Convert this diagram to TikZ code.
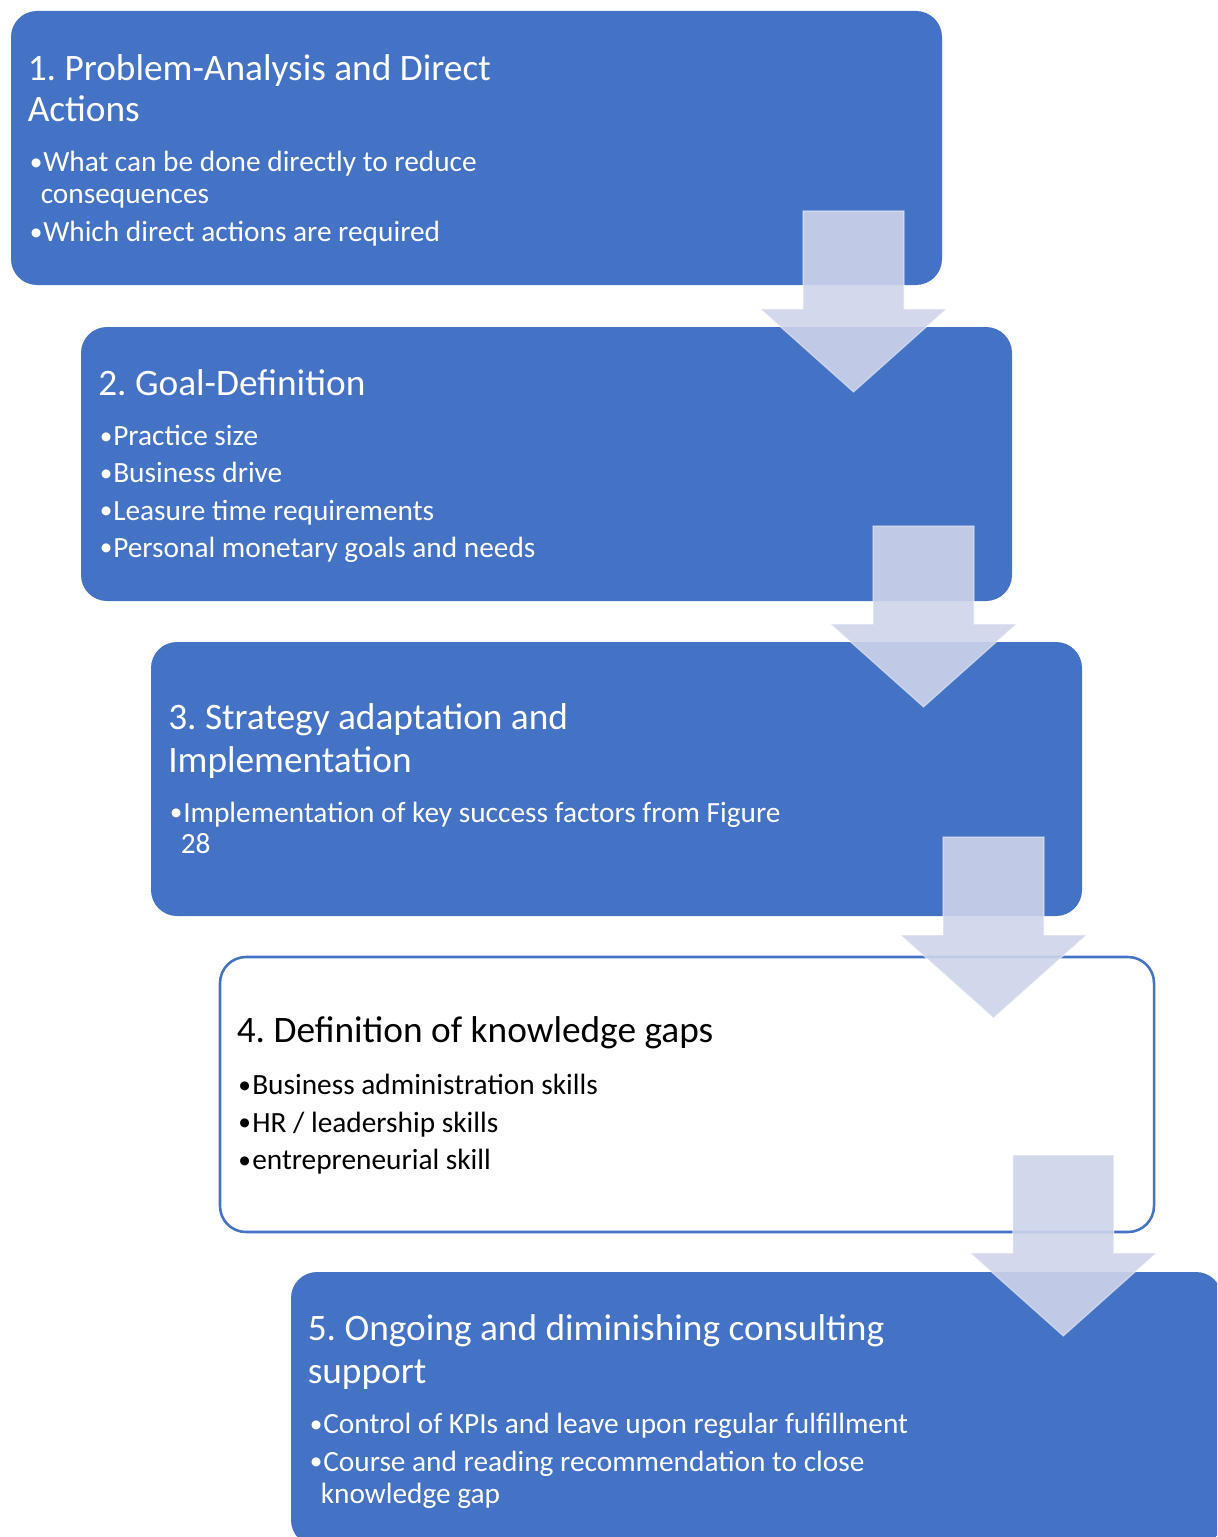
\documentclass[tikz,border=0pt]{standalone}
\usepackage{fontspec}
\setmainfont{Carlito}
\frenchspacing
\definecolor{stageblue}{HTML}{4472C4}
\definecolor{arrowtint}{HTML}{CED4EA}
\begin{document}
\begin{tikzpicture}[x=0.75pt,y=-0.75pt,
  stage/.style={rectangle, rounded corners=19.5pt, minimum width=698.25pt,
    minimum height=205.5pt, anchor=north west, inner sep=0pt, outer sep=0pt},
  filledstage/.style={stage, fill=stageblue},
  openstage/.style={stage, draw=stageblue, line width=1.9pt, fill=white},
  headtxt/.style={anchor=base west, inner sep=0pt, font=\fontsize{28}{30}\selectfont},
  itemtxt/.style={anchor=base west, inner sep=0pt, font=\fontsize{22}{24}\selectfont},
  dottxt/.style={anchor=base west, inner sep=0pt, font=\fontsize{19}{21}\selectfont, yshift=0.9pt},
  flowarrow/.style={fill=arrowtint, fill opacity=0.9, draw=white, draw opacity=0.45,
    line width=0.9pt, line join=miter},
  downarrow/.pic={\path[flowarrow] (-50.5,0) -- (50.5,0) -- (50.5,98) -- (93,98)
    -- (0,181) -- (-93,98) -- (-50.5,98) -- cycle;}
]
\useasboundingbox (0,0) rectangle (1217,1537);
\clip (0,0) rectangle (1217,1537);

% stage boxes
\node[filledstage] (box1) at (11,11) {};
\node[filledstage] (box2) at (81,327) {};
\node[filledstage] (box3) at (151,642) {};
\node[openstage, minimum width=700.5pt, minimum height=206.25pt] (box4) at (220,957) {};
\node[filledstage] (box5) at (291,1272) {};

% stage 1
\begin{scope}[every node/.append style={text=white}]
\node[headtxt] (h1a) at ([shift={(16.5,70)}]box1.north west) {1. Problem-Analysis and Direct};
\node[headtxt] (h1b) at ([shift={(16.5,110.5)}]box1.north west) {Actions};
\node[dottxt]  (d1a) at ([shift={(18.5,161)}]box1.north west) {•};
\node[itemtxt] (i1a) at ([shift={(32,161)}]box1.north west) {What can be done directly to reduce};
\node[itemtxt] (i1b) at ([shift={(29.5,193)}]box1.north west) {consequences};
\node[dottxt]  (d1c) at ([shift={(18.5,230.5)}]box1.north west) {•};
\node[itemtxt] (i1c) at ([shift={(32,230.5)}]box1.north west) {Which direct actions are required};

% stage 2
\node[headtxt] (h2a) at ([shift={(17,68.3)}]box2.north west) {2. Goal-Definition};
\node[dottxt]  (d2a) at ([shift={(18.5,118.3)}]box2.north west) {•};
\node[itemtxt] (i2a) at ([shift={(32,118.3)}]box2.north west) {Practice size};
\node[dottxt]  (d2b) at ([shift={(18.5,155.5)}]box2.north west) {•};
\node[itemtxt] (i2b) at ([shift={(32,155.5)}]box2.north west) {Business drive};
\node[dottxt]  (d2c) at ([shift={(18.5,193)}]box2.north west) {•};
\node[itemtxt] (i2c) at ([shift={(32,193)}]box2.north west) {Leasure time requirements};
\node[dottxt]  (d2d) at ([shift={(18.5,230)}]box2.north west) {•};
\node[itemtxt] (i2d) at ([shift={(32,230)}]box2.north west) {Personal monetary goals and needs};

% stage 3
\node[headtxt] (h3a) at ([shift={(17,87.7)}]box3.north west) {3. Strategy adaptation and};
\node[headtxt] (h3b) at ([shift={(17,130)}]box3.north west) {Implementation};
\node[dottxt]  (d3a) at ([shift={(18.5,180)}]box3.north west) {•};
\node[itemtxt] (i3a) at ([shift={(32,180)}]box3.north west) {Implementation of key success factors from Figure};
\node[itemtxt] (i3b) at ([shift={(29.5,211.7)}]box3.north west) {28};

% stage 5
\node[headtxt] (h5a) at ([shift={(16.5,68.3)}]box5.north west) {5. Ongoing and diminishing consulting};
\node[headtxt] (h5b) at ([shift={(16.5,111.7)}]box5.north west) {support};
\node[dottxt]  (d5a) at ([shift={(18.5,161.7)}]box5.north west) {•};
\node[itemtxt] (i5a) at ([shift={(32,161.7)}]box5.north west) {Control of KPIs and leave upon regular fulfillment};
\node[dottxt]  (d5b) at ([shift={(18.5,199)}]box5.north west) {•};
\node[itemtxt] (i5b) at ([shift={(32,199)}]box5.north west) {Course and reading recommendation to close};
\node[itemtxt] (i5c) at ([shift={(29.5,231.7)}]box5.north west) {knowledge gap};
\end{scope}

% stage 4 (outlined, dark text)
\node[headtxt] (h4a) at ([shift={(16.5,85.5)}]box4.north west) {4. Definition of knowledge gaps};
\node[dottxt]  (d4a) at ([shift={(18,137.5)}]box4.north west) {•};
\node[itemtxt] (i4a) at ([shift={(32,137.5)}]box4.north west) {Business administration skills};
\node[dottxt]  (d4b) at ([shift={(18,175)}]box4.north west) {•};
\node[itemtxt] (i4b) at ([shift={(32,175)}]box4.north west) {HR / leadership skills};
\node[dottxt]  (d4c) at ([shift={(18,212.5)}]box4.north west) {•};
\node[itemtxt] (i4c) at ([shift={(32,212.5)}]box4.north west) {entrepreneurial skill};

% block arrows between the stages
\coordinate (a1) at (853.5,211);
\coordinate (a2) at (923.5,526);
\coordinate (a3) at (993.5,837);
\coordinate (a4) at (1063.3,1155);
\pic at (a1) {downarrow};
\pic at (a2) {downarrow};
\pic at (a3) {downarrow};
\pic at (a4) {downarrow};
\end{tikzpicture}
\end{document}
